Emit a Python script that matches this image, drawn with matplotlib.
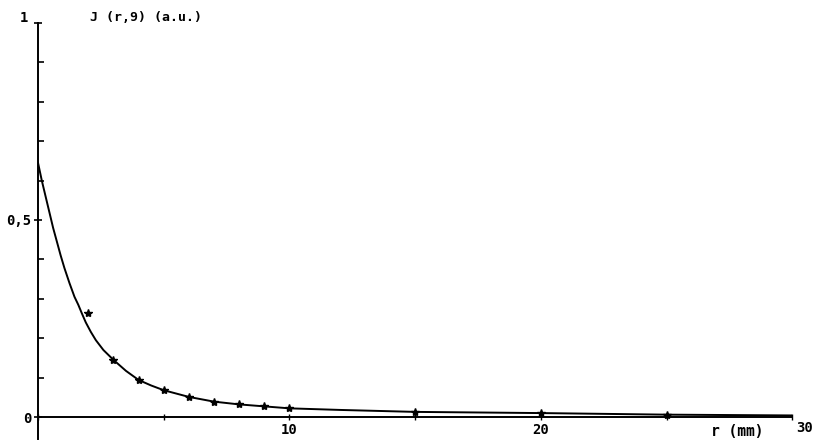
import matplotlib.pyplot as plt
import numpy as np

# 측정점 (r in mm, J in a.u.)
r_points = [2, 3, 4, 5, 6, 7, 8, 9, 10, 15, 20, 25]
j_points = [0.264, 0.145, 0.094, 0.069, 0.051, 0.038, 0.033, 0.028, 0.023, 0.013, 0.010, 0.005]

# 곡선
r_curve = [0, 0.15, 0.3, 0.45, 0.6, 0.75, 0.9, 1.05, 1.25, 1.45, 1.6, 1.75, 1.9, 2.1,
           2.3, 2.6, 3, 3.5, 4, 4.5, 5, 6, 7, 8, 9, 10, 12, 15, 20, 25, 30]
j_curve = [0.645, 0.60, 0.56, 0.52, 0.48, 0.445, 0.41, 0.378, 0.34, 0.305, 0.285, 0.262,
           0.24, 0.216, 0.195, 0.17, 0.145, 0.117, 0.094, 0.080, 0.068, 0.051, 0.039,
           0.032, 0.027, 0.022, 0.018, 0.013, 0.010, 0.006, 0.004]

x_ticks = [0, 5, 10, 15, 20, 25, 30]
x_ticklabels = ['', '', '10', '', '20', '', '']
y_ticks = [0, 0.5, 1]
y_ticklabels = ['0', '0,5', '']

font = 'DejaVu Sans Mono'

fig = plt.figure(figsize=(8.18, 4.42), dpi=100)
ax = fig.add_axes([0.0465, 0.0075, 0.922, 0.9405])

ax.plot(r_curve, j_curve, color='black', linewidth=1.4)
ax.plot(r_points, j_points, linestyle='none', marker='*', markersize=6, color='black')

ax.set_xlim(0, 30)
ax.set_ylim(-0.055, 1.0)

# 축 모양
ax.spines['top'].set_visible(False)
ax.spines['right'].set_visible(False)
ax.spines['bottom'].set_position(('data', 0))
ax.spines['left'].set_linewidth(1.4)
ax.spines['bottom'].set_linewidth(1.4)

ax.set_xticks(x_ticks)
ax.set_xticklabels(x_ticklabels, fontsize=10, fontweight='bold', family=font)
ax.set_yticks(y_ticks)
ax.set_yticklabels(y_ticklabels, fontsize=10, fontweight='bold', family=font)
ax.set_yticks(np.arange(0, 1.01, 0.1), minor=True)
ax.tick_params(axis='y', which='major', direction='inout', length=6, width=1.2, pad=2)
ax.tick_params(axis='y', which='minor', direction='in', length=4, width=1.2)
ax.tick_params(axis='x', which='major', direction='inout', length=4, width=1.0, pad=2)

# 끝 눈금 라벨은 조금 옆으로
ax.text(-0.4, 1.012, '1', fontsize=10, fontweight='bold', family=font, va='center', ha='right')
ax.text(30.5, -0.028, '30', fontsize=10, fontweight='bold', family=font, va='center', ha='center')

ax.text(2.05, 1.015, 'J (r,9) (a.u.)', fontsize=9.5, fontweight='bold', family=font,
        va='center', ha='left')
ax.text(27.8, -0.038, 'r (mm)', fontsize=10.5, fontweight='bold', family=font,
        va='center', ha='center')

plt.savefig('out.png', dpi=100)
